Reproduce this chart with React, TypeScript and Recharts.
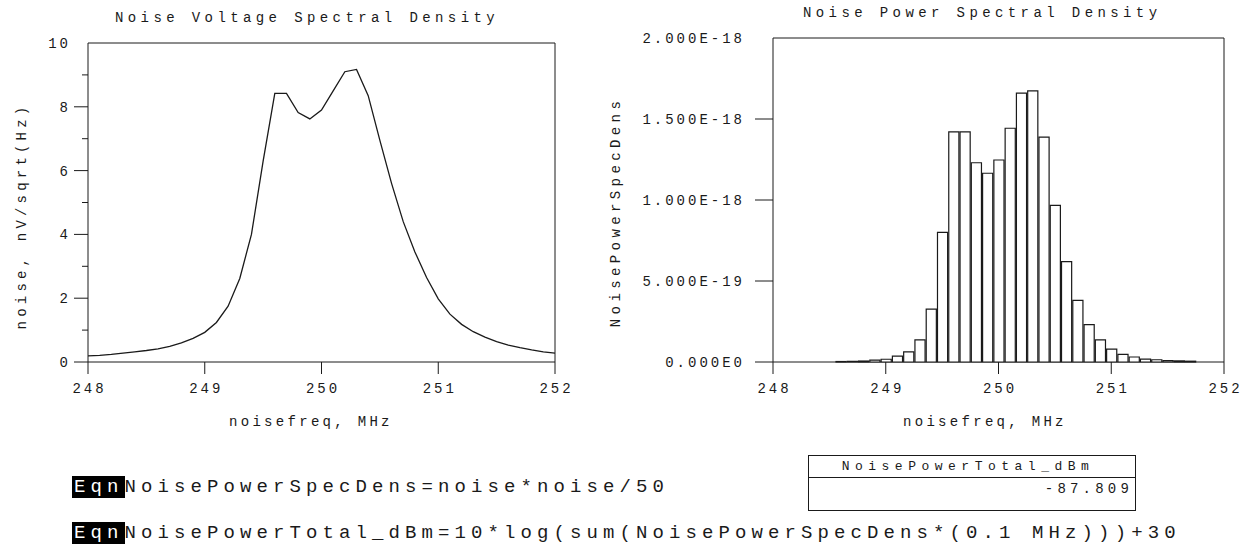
import React from 'react';
import {
  LineChart,
  Line,
  ComposedChart,
  Bar,
  XAxis,
  YAxis,
  ReferenceArea,
} from 'recharts';

// noise voltage spectral density, nV/sqrt(Hz), sampled every 0.1 MHz
const noiseFreq = [
  248.0, 248.1, 248.2, 248.3, 248.4, 248.5, 248.6, 248.7, 248.8, 248.9,
  249.0, 249.1, 249.2, 249.3, 249.4, 249.5, 249.6, 249.7, 249.8, 249.9,
  250.0, 250.1, 250.2, 250.3, 250.4, 250.5, 250.6, 250.7, 250.8, 250.9,
  251.0, 251.1, 251.2, 251.3, 251.4, 251.5, 251.6, 251.7, 251.8, 251.9,
  252.0,
];
const noiseValues = [
  0.19, 0.21, 0.24, 0.28, 0.32, 0.36, 0.41, 0.49, 0.6, 0.74,
  0.93, 1.24, 1.75, 2.62, 4.0, 6.3, 8.42, 8.42, 7.82, 7.62,
  7.9, 8.5, 9.1, 9.17, 8.35, 6.95, 5.6, 4.4, 3.45, 2.65,
  1.98, 1.5, 1.18, 0.95, 0.78, 0.64, 0.53, 0.45, 0.38, 0.32,
  0.28,
];

// noise power spectral density (W/Hz) drawn as 0.1 MHz wide bars
const psdFreq = [
  248.6, 248.7, 248.8, 248.9, 249.0, 249.1, 249.2, 249.3, 249.4, 249.5,
  249.6, 249.7, 249.8, 249.9, 250.0, 250.1, 250.2, 250.3, 250.4, 250.5,
  250.6, 250.7, 250.8, 250.9, 251.0, 251.1, 251.2, 251.3, 251.4, 251.5,
  251.6, 251.7,
];
const psdValues = [
  0.003e-18, 0.004e-18, 0.006e-18, 0.012e-18, 0.017e-18, 0.036e-18, 0.063e-18, 0.137e-18, 0.326e-18, 0.8e-18,
  1.42e-18, 1.42e-18, 1.23e-18, 1.165e-18, 1.247e-18, 1.443e-18, 1.66e-18, 1.674e-18, 1.388e-18, 0.967e-18,
  0.619e-18, 0.381e-18, 0.231e-18, 0.136e-18, 0.08e-18, 0.047e-18, 0.031e-18, 0.018e-18, 0.014e-18, 0.009e-18,
  0.007e-18, 0.005e-18,
];

const freqTicks = [248, 249, 250, 251, 252];
const noiseTicks = [0, 1, 2, 3, 4, 5, 6, 7, 8, 9, 10];
const psdTicks = [0, 0.5e-18, 1e-18, 1.5e-18, 2e-18];
const psdTickLabels = ['0.000E0', '5.000E-19', '1.000E-18', '1.500E-18', '2.000E-18'];

const totalLabel = 'NoisePowerTotal_dBm';
const totalValue = '-87.809';
const eqn1 = 'NoisePowerSpecDens=noise*noise/50';
const eqn2 = 'NoisePowerTotal_dBm=10*log(sum(NoisePowerSpecDens*(0.1 MHz)))+30';

const FONT = '"Liberation Mono", "DejaVu Sans Mono", monospace';
const INK = '#1a1a1a';

const noiseData = noiseFreq.map((f, i) => ({ f, noise: noiseValues[i] }));
const psdData = psdFreq.map((f, i) => ({ f, p: psdValues[i] }));

const XTick = (props: any) => {
  const { x, y, payload } = props;
  return (
    <g>
      <line x1={x} y1={y} x2={x} y2={y + 12} stroke={INK} strokeWidth={1} />
      <text x={x + 1.5} y={y + 31} textAnchor="middle" fontFamily={FONT} fontSize={14} letterSpacing={3} fill={INK}>
        {payload.value}
      </text>
    </g>
  );
};

const NoiseYTick = (props: any) => {
  const { x, y, payload } = props;
  const v = payload.value as number;
  const major = v % 2 === 0;
  const len = major ? 14 : 6;
  return (
    <g>
      {v < 10 && <line x1={x - len} y1={y} x2={x} y2={y} stroke={INK} strokeWidth={1} />}
      {major && (
        <text x={x - 17} y={y + 5} textAnchor="end" fontFamily={FONT} fontSize={14} letterSpacing={3} fill={INK}>
          {v}
        </text>
      )}
    </g>
  );
};

const PsdYTick = (props: any) => {
  const { x, y, index } = props;
  return (
    <g>
      {index < psdTicks.length - 1 && <line x1={x - 18} y1={y} x2={x} y2={y} stroke={INK} strokeWidth={1} />}
      <text x={x - 28} y={y + 5} textAnchor="end" fontFamily={FONT} fontSize={14} letterSpacing={3} fill={INK}>
        {psdTickLabels[index]}
      </text>
    </g>
  );
};

const txt = (extra: React.CSSProperties): React.CSSProperties => ({
  position: 'absolute',
  fontFamily: FONT,
  color: INK,
  whiteSpace: 'nowrap',
  lineHeight: '18px',
  ...extra,
});

export default function App() {
  return (
    <div style={{ position: 'absolute', left: 0, top: 0, width: 1246, height: 550, background: '#fff', overflow: 'hidden' }}>
      {/* left: voltage density */}
      <div style={{ position: 'absolute', left: 0, top: 0 }}>
        <LineChart width={620} height={450} data={noiseData} margin={{ top: 43, left: 28, right: 65, bottom: 48 }}>
          <XAxis
            dataKey="f"
            type="number"
            domain={[248, 252]}
            ticks={freqTicks}
            height={40}
            axisLine={false}
            tickLine={false}
            tickSize={0}
            tickMargin={0}
            tick={XTick}
            interval={0}
            allowDataOverflow
          />
          <YAxis
            type="number"
            domain={[0, 10]}
            ticks={noiseTicks}
            width={60}
            axisLine={false}
            tickLine={false}
            tickSize={0}
            tickMargin={0}
            tick={NoiseYTick}
            interval={0}
          />
          <ReferenceArea x1={248} x2={252} y1={0} y2={10} fill="none" stroke={INK} strokeWidth={1} ifOverflow="visible" />
          <Line type="linear" dataKey="noise" stroke={INK} strokeWidth={1.3} dot={false} isAnimationActive={false} />
        </LineChart>
      </div>

      {/* right: power density */}
      <div style={{ position: 'absolute', left: 600, top: 0 }}>
        <ComposedChart width={646} height={450} data={psdData} margin={{ top: 38, left: 53, right: 22, bottom: 48 }}>
          <XAxis
            dataKey="f"
            type="number"
            domain={[248, 252]}
            ticks={freqTicks}
            height={40}
            axisLine={false}
            tickLine={false}
            tickSize={0}
            tickMargin={0}
            tick={XTick}
            interval={0}
            allowDataOverflow
          />
          <YAxis
            type="number"
            domain={[0, 2e-18]}
            ticks={psdTicks}
            width={120}
            axisLine={false}
            tickLine={false}
            tickSize={0}
            tickMargin={0}
            tick={PsdYTick}
            interval={0}
          />
          <Bar dataKey="p" barSize={11.3} fill="#fff" stroke={INK} strokeWidth={1.2} isAnimationActive={false} />
          <ReferenceArea x1={248} x2={252} y1={0} y2={2e-18} fill="none" stroke={INK} strokeWidth={1} ifOverflow="visible" />
        </ComposedChart>
      </div>

      {/* titles and axis names */}
      <div style={txt({ left: 115, top: 9, fontSize: 14, letterSpacing: 4.4 })}>Noise Voltage Spectral Density</div>
      <div style={txt({ left: 803, top: 4, fontSize: 14, letterSpacing: 4.4 })}>Noise Power Spectral Density</div>
      <div style={txt({ left: 229, top: 413, fontSize: 14, letterSpacing: 3.3 })}>noisefreq, MHz</div>
      <div style={txt({ left: 903, top: 413, fontSize: 14, letterSpacing: 3.3 })}>noisefreq, MHz</div>
      <div style={txt({ left: 22, top: 216, fontSize: 14, letterSpacing: 4.2, transform: 'translate(-50%, -50%) rotate(-90deg)' })}>
        noise, nV/sqrt(Hz)
      </div>
      <div style={txt({ left: 616, top: 212, fontSize: 14, letterSpacing: 4.4, transform: 'translate(-50%, -50%) rotate(-90deg)' })}>
        NoisePowerSpecDens
      </div>

      {/* equations */}
      {[eqn1, eqn2].map((e, i) => (
        <div key={i} style={txt({ left: 72, top: i === 0 ? 476 : 522, fontSize: 19, letterSpacing: 5.1, lineHeight: '22px' })}>
          <span style={{ background: '#000', color: '#fff', padding: '0 1px 0 2px' }}>Eqn</span>
          <span>{e}</span>
        </div>
      ))}

      {/* listing column */}
      <div style={{ position: 'absolute', left: 808, top: 455, width: 326, height: 54, border: `1px solid ${INK}` }}>
        <div style={txt({ position: 'relative', textAlign: 'center', paddingRight: 8, fontSize: 13, letterSpacing: 5.5, height: 21, lineHeight: '21px', borderBottom: `1px solid ${INK}` })}>
          {totalLabel}
        </div>
        <div style={txt({ position: 'relative', textAlign: 'right', paddingRight: 2, fontSize: 14, letterSpacing: 4.2, height: 22, lineHeight: '22px' })}>
          {totalValue}
        </div>
      </div>
    </div>
  );
}
